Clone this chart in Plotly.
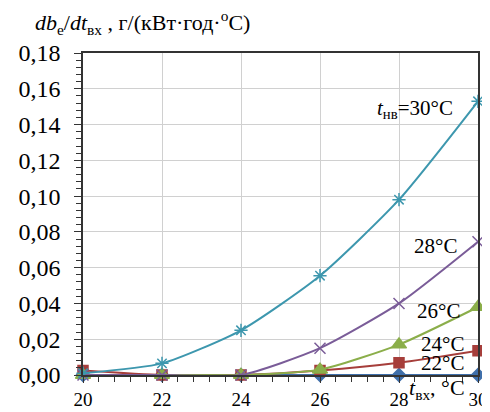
import plotly.graph_objects as go

x_vals = [20, 22, 24, 26, 28, 30]
s30 = [0.001, 0.0065, 0.025, 0.0555, 0.098, 0.153]
s28 = [0.0, 0.0, 0.0, 0.015, 0.040, 0.0745]
s26 = [0.0, 0.0, 0.0, 0.003, 0.017, 0.038]
s24 = [0.0025, 0.0, 0.0, 0.0025, 0.0068, 0.0135]
s22 = [0.0, 0.0, 0.0, 0.0, 0.0, 0.0]
s20 = [0.0, 0.0, 0.0, 0.0, 0.0, 0.0]

labels = ["<i>t</i><sub>нв</sub>=30°C", "28°C", "26°C", "24°C", "22°C"]
label_x = [29.42, 29.52, 29.6, 29.7, 29.7]
label_y = [0.1487, 0.0722, 0.0356, 0.0172, 0.0065]

FONT = "Liberation Serif"

fig = go.Figure()

def add(y, color, symbol, size, lw=2, mlw=1.5):
    fig.add_trace(go.Scatter(
        x=x_vals, y=y, mode="lines+markers", line=dict(color=color, width=lw, shape="spline", smoothing=0.6),
        marker=dict(symbol=symbol, size=size, color=color, line=dict(color=color, width=mlw)),
        cliponaxis=False, showlegend=False))

add(s20, "#E03030", "triangle-up-open", 8, lw=1.5, mlw=1.2)
add(s22, "#3F6FAA", "diamond", 10)
add(s24, "#A63E3B", "square", 10)
add(s26, "#8BAE4A", "triangle-up", 13)
add(s28, "#7A5C98", "x-thin-open", 11)
add(s30, "#3D97AE", "asterisk-open", 11)

for t, lx, ly in zip(labels, label_x, label_y):
    fig.add_annotation(x=lx, y=ly, text=t, showarrow=False, xanchor="right", yanchor="middle",
                       font=dict(family=FONT, size=21, color="black"))

fig.add_annotation(x=29.72, y=0, xref="x", yref="y", text="<i>t</i><sub>вх</sub>, °C", showarrow=False,
                   xanchor="right", yanchor="middle", yshift=-14,
                   font=dict(family=FONT, size=22, color="black"))

fig.add_annotation(x=0, y=1, xref="paper", yref="paper", text="<i>db</i><sub>e</sub>/<i>dt</i><sub>вх</sub> , г/(кВт·год·<sup>o</sup>С)",
                   showarrow=False, xanchor="left", yanchor="bottom", xshift=-50, yshift=13,
                   font=dict(family=FONT, size=22, color="black"))

fig.update_layout(
    width=490, height=412,
    margin=dict(l=72, r=10, t=45, b=33),
    paper_bgcolor="white", plot_bgcolor="white",
    separators=", ",
    font=dict(family=FONT, color="black"),
)
fig.update_xaxes(range=[20, 30], tickvals=x_vals, ticktext=[str(v) for v in x_vals],
                 showgrid=True, gridcolor="#D0D0D0", gridwidth=1,
                 showline=True, linecolor="#333333", linewidth=1.5, mirror=True,
                 ticks="outside", ticklen=6, tickcolor="#333333",
                 minor=dict(dtick=0.4, tick0=20, ticks="outside", ticklen=5, tickcolor="#333333", showgrid=False),
                 tickfont=dict(family=FONT, size=19), zeroline=False)
fig.update_yaxes(range=[0, 0.18], dtick=0.02, tickformat=".2f",
                 showgrid=True, gridcolor="#D0D0D0", gridwidth=1,
                 showline=True, linecolor="#333333", linewidth=1.5, mirror=True,
                 ticks="outside", ticklen=7, tickcolor="#333333", ticklabelstandoff=9,
                 minor=dict(dtick=0.004, ticks="outside", ticklen=5, tickcolor="#333333", showgrid=False),
                 tickfont=dict(family=FONT, size=24), zeroline=False)

fig.write_html("out.html")
